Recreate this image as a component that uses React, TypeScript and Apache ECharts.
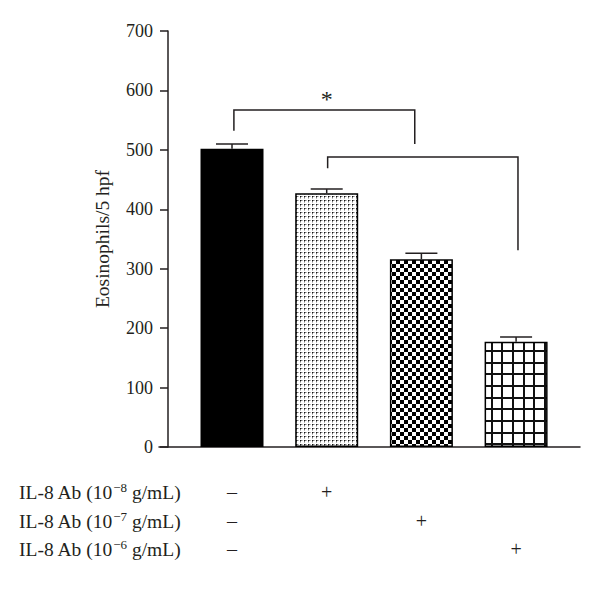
import React, { useEffect, useRef } from "react";
import * as echarts from "echarts";

// ---- data ----
const barPositions = [1, 2, 3, 4];
const barMeans = [502, 427, 316, 177];
const barErrors = [8, 7, 10, 8];
const yMin = 0;
const yMax = 700;
const yInterval = 100;
const yAxisTitle = "Eosinophils/5 hpf";
const rowPrefix = "IL-8 Ab (10";
const rowExponents = ["−8", "−7", "−6"];
const rowSuffix = " g/mL)";
const rowSigns = [
  ["–", "+", "", ""],
  ["–", "", "+", ""],
  ["–", "", "", "+"],
];
// brackets: [xStart, xEnd, yTop, yLeftEnd, yRightEnd]
const brackets = [
  [1.02, 2.93, 567, 532, 510],
  [2.01, 4.02, 488, 469, 331],
];
// significance mark: [x, y, text]
const marks = [[2.0, 585, "*"]];

const FONT = "'Liberation Serif', 'DejaVu Serif', serif";
const INK = "#231f20";

function makeCanvas(w: number, h: number, draw: (ctx: CanvasRenderingContext2D) => void) {
  const c = document.createElement("canvas");
  c.width = w;
  c.height = h;
  const ctx = c.getContext("2d") as CanvasRenderingContext2D;
  draw(ctx);
  return c;
}

export default function App() {
  const ref = useRef<HTMLDivElement>(null);

  useEffect(() => {
    document.body.style.margin = "0";
    if (!ref.current) return;
    const chart = echarts.init(ref.current, null, { renderer: "svg" });

    const dotCanvas = makeCanvas(4, 4, (ctx) => {
      ctx.fillStyle = "#fff";
      ctx.fillRect(0, 0, 4, 4);
      ctx.fillStyle = "#111";
      ctx.fillRect(0, 0, 1, 1);
      ctx.fillStyle = "#777";
      ctx.fillRect(1, 0, 1, 1);
      ctx.fillRect(0, 1, 1, 1);
      ctx.fillStyle = "#bbb";
      ctx.fillRect(2, 0, 1, 1);
      ctx.fillRect(0, 2, 1, 1);
    });
    const checkCanvas = makeCanvas(8, 8, (ctx) => {
      ctx.fillStyle = "#fff";
      ctx.fillRect(0, 0, 8, 8);
      ctx.fillStyle = "#000";
      ctx.fillRect(0, 0, 4, 4);
      ctx.fillRect(4, 4, 4, 4);
    });
    const gridCanvas = makeCanvas(32, 35, (ctx) => {
      ctx.fillStyle = "#fff";
      ctx.fillRect(0, 0, 32, 35);
      ctx.fillStyle = "#111";
      [0, 11, 21].forEach((x) => ctx.fillRect(x, 0, 2, 35));
      [0, 12, 23].forEach((y) => ctx.fillRect(0, y, 32, 2));
    });

    const fills: any[] = [
      "#000",
      { image: dotCanvas, repeat: "repeat" },
      { image: checkCanvas, repeat: "repeat" },
      { image: gridCanvas, repeat: "repeat", x: 4, y: 27 },
    ];

    const xMin = 0.229;
    const xMax = 4.675;

    const signAxes = rowSigns.map((signs, i) => ({
      type: "value",
      min: xMin,
      max: xMax,
      position: "bottom",
      offset: 35 + i * 28.5,
      axisLine: { show: false, onZero: false },
      axisTick: { show: false },
      splitLine: { show: false },
      axisLabel: {
        customValues: barPositions,
        margin: 0,
        fontFamily: FONT,
        fontSize: 20,
        color: INK,
        formatter: (v: number) => signs[Math.round(v) - 1] ?? "",
      },
    }));

    const option: any = {
      animation: false,
      backgroundColor: "#fff",
      grid: { left: 159, right: 20, top: 31, bottom: 149, containLabel: false },
      xAxis: [
        {
          type: "value",
          min: xMin,
          max: xMax,
          position: "bottom",
          axisLine: { show: true, onZero: false, lineStyle: { color: INK, width: 1.5 } },
          axisTick: { show: false },
          axisLabel: { show: false },
          splitLine: { show: false },
        },
        ...signAxes,
      ],
      yAxis: {
        type: "value",
        min: yMin,
        max: yMax,
        interval: yInterval,
        offset: -9,
        name: yAxisTitle,
        nameLocation: "middle",
        nameGap: 56,
        nameTextStyle: { fontFamily: FONT, fontSize: 19.5, color: INK },
        axisLine: { show: true, onZero: false, lineStyle: { color: INK, width: 1.5 } },
        axisTick: { show: true, inside: false, length: 8, lineStyle: { color: INK, width: 1.5 } },
        axisLabel: { fontFamily: FONT, fontSize: 18, color: INK, margin: 15 },
        splitLine: { show: false },
      },
      series: [
        {
          type: "bar",
          xAxisIndex: 0,
          barWidth: 63,
          data: barPositions.map((x, i) => ({
            value: [x, barMeans[i]],
            itemStyle: { color: fills[i], borderColor: "#000", borderWidth: 1.5 },
          })),
          z: 2,
        },
        {
          type: "custom",
          xAxisIndex: 0,
          z: 3,
          data: barPositions.map((x, i) => [x, barMeans[i], barErrors[i]]),
          renderItem: (params: any, api: any) => {
            const x = api.value(0);
            const y = api.value(1);
            const e = api.value(2);
            const base = api.coord([x, y]);
            const top = api.coord([x, y + e]);
            const half = 16;
            const st = { stroke: INK, lineWidth: 1.5 };
            return {
              type: "group",
              children: [
                { type: "line", shape: { x1: base[0], y1: base[1], x2: top[0], y2: top[1] }, style: st },
                { type: "line", shape: { x1: top[0] - half, y1: top[1], x2: top[0] + half, y2: top[1] }, style: st },
              ],
            };
          },
        },
        {
          type: "custom",
          xAxisIndex: 0,
          z: 3,
          data: brackets,
          renderItem: (params: any, api: any) => {
            const x1 = api.value(0);
            const x2 = api.value(1);
            const yt = api.value(2);
            const yl = api.value(3);
            const yr = api.value(4);
            return {
              type: "polyline",
              shape: {
                points: [api.coord([x1, yl]), api.coord([x1, yt]), api.coord([x2, yt]), api.coord([x2, yr])],
              },
              style: { stroke: INK, lineWidth: 1.5, fill: "none" },
            };
          },
        },
        {
          type: "custom",
          xAxisIndex: 0,
          z: 3,
          data: marks,
          renderItem: (params: any, api: any) => {
            const p = api.coord([api.value(0), api.value(1)]);
            return {
              type: "text",
              x: p[0],
              y: p[1],
              style: {
                text: String(marks[params.dataIndex][2]),
                fontFamily: FONT,
                fontSize: 24,
                fill: INK,
                textAlign: "center",
                textVerticalAlign: "middle",
              },
            };
          },
        },
      ],
      graphic: rowExponents.map((exp, i) => ({
        type: "text",
        left: 19,
        top: 481 + i * 28.5,
        style: {
          text: `{n|${rowPrefix}}{s|${exp}}{n|${rowSuffix}}`,
          rich: {
            n: { fontFamily: FONT, fontSize: 19.5, fill: INK, lineHeight: 23 },
            s: { fontFamily: FONT, fontSize: 13, fill: INK, verticalAlign: "top", lineHeight: 12 },
          },
        },
      })),
    };

    chart.setOption(option);
    return () => chart.dispose();
  }, []);

  return <div ref={ref} style={{ width: 600, height: 596 }} />;
}
